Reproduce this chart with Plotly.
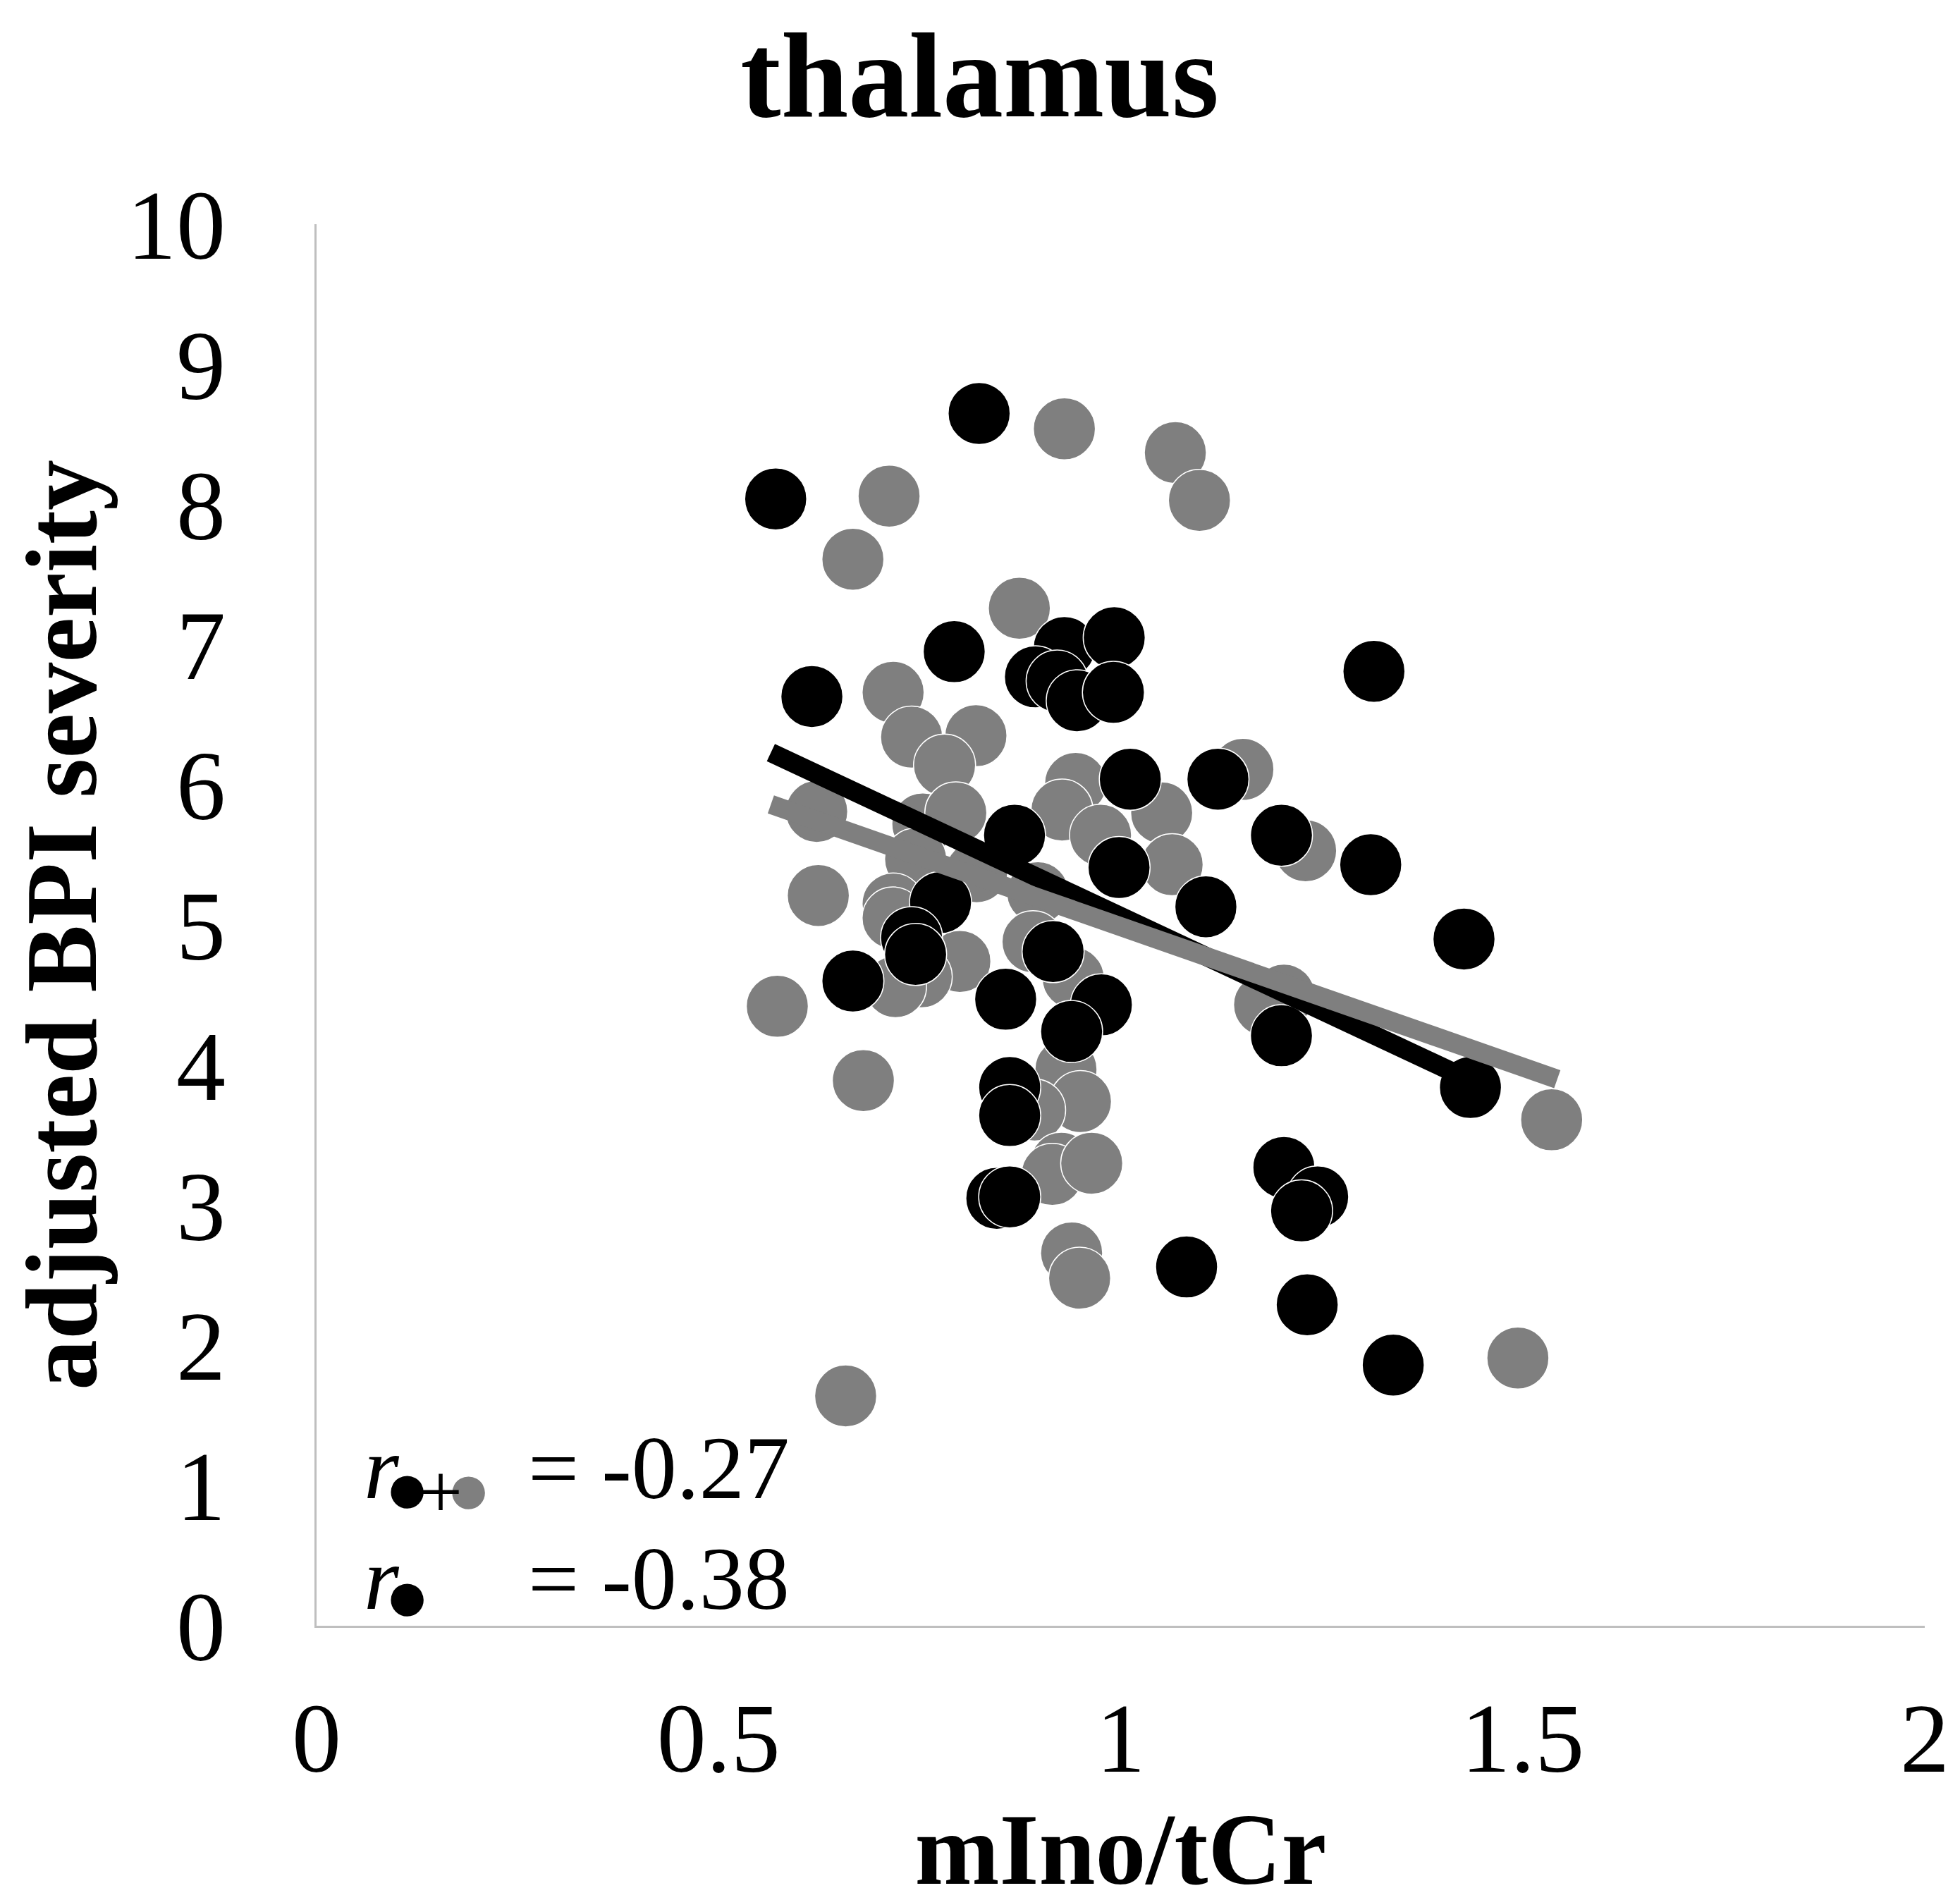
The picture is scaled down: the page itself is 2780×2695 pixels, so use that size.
import plotly.graph_objects as go

# ---- data ----
black_x = [0.571, 0.824, 0.616, 0.793, 0.930, 0.992, 0.894, 0.921, 0.946, 0.991,
           1.315, 1.012, 1.121, 0.868, 0.998, 1.200, 1.311, 1.106, 0.776, 0.740,
           0.745, 0.667, 0.916, 0.857, 0.976, 0.939, 1.200, 1.427, 1.435, 0.862,
           0.862, 0.846, 0.862, 1.203, 1.245, 1.225, 1.082, 1.232, 1.339]
black_y = [8.04, 8.65, 6.63, 6.95, 6.98, 7.05, 6.77, 6.74, 6.60, 6.66,
           6.81, 6.04, 6.04, 5.64, 5.41, 5.64, 5.43, 5.13, 5.16, 4.91,
           4.79, 4.60, 4.81, 4.47, 4.43, 4.24, 4.21, 4.90, 3.84, 3.84,
           3.64, 3.05, 3.06, 3.27, 3.06, 2.96, 2.56, 2.29, 1.86]

gray_x = [0.930, 1.068, 1.098, 0.712, 0.667, 0.874, 0.717, 0.740, 0.820, 0.781,
          0.944, 0.927, 0.975, 1.051, 1.064, 1.152, 1.230, 0.622, 0.754, 0.795,
          0.745, 0.624, 0.717, 0.897, 0.821, 0.573, 0.680, 0.658, 0.717, 0.800,
          0.752, 0.720, 0.891, 0.941, 0.932, 0.950, 0.893, 0.926, 0.915, 0.964,
          0.939, 0.949, 1.203, 1.179, 1.536, 1.494]
gray_y = [8.54, 8.37, 8.03, 8.06, 7.61, 7.26, 6.66, 6.34, 6.35, 6.14,
          6.01, 5.82, 5.64, 5.80, 5.43, 6.11, 5.53, 5.81, 5.72, 5.80,
          5.47, 5.21, 5.15, 5.23, 5.38, 4.42, 3.89, 1.64, 5.05, 4.74,
          4.63, 4.56, 4.88, 4.62, 3.97, 3.74, 3.68, 3.30, 3.22, 3.30,
          2.66, 2.48, 4.50, 4.43, 3.61, 1.91]

# trend line end points
black_trend_x = [0.565, 1.432]
black_trend_y = [6.23, 3.90]
gray_trend_x = [0.565, 1.543]
gray_trend_y = [5.86, 3.90]

x_ticks = [0, 0.5, 1, 1.5, 2]
x_tick_labels = ["0", "0.5", "1", "1.5", "2"]
y_ticks = list(range(0, 11))

r_all = "-0.27"
r_black = "-0.38"

BLACK = "#000000"
GRAY = "#7f7f7f"
FONT = "Liberation Serif"

fig = go.Figure()
fig.add_trace(go.Scatter(x=gray_x, y=gray_y, mode="markers",
                         marker=dict(size=88, color=GRAY, line=dict(color="white", width=1.5)),
                         showlegend=False))
fig.add_trace(go.Scatter(x=black_x, y=black_y, mode="markers",
                         marker=dict(size=88, color=BLACK, line=dict(color="white", width=1.5)),
                         showlegend=False))
fig.add_trace(go.Scatter(x=black_trend_x, y=black_trend_y, mode="lines",
                         line=dict(color=BLACK, width=27), showlegend=False))
fig.add_trace(go.Scatter(x=gray_trend_x, y=gray_trend_y, mode="lines",
                         line=dict(color=GRAY, width=27), showlegend=False))

# correlation text
ann_font = dict(family=FONT, size=128, color=BLACK)
dot_font_b = dict(family=FONT, size=108, color=BLACK)
dot_font_g = dict(family=FONT, size=108, color=GRAY)
plus_font = dict(family=FONT, size=110, color=BLACK)
annotations = [
    dict(x=0.058, y=1.125, text="<i>r</i>", xanchor="left", font=ann_font),
    dict(x=0.113, y=0.985, text="●", xanchor="center", font=dot_font_b),
    dict(x=0.189, y=0.980, text="●", xanchor="center", font=dot_font_g),
    dict(x=0.154, y=0.955, text="+", xanchor="center", font=plus_font),
    dict(x=0.262, y=1.125, text="= " + r_all, xanchor="left", font=ann_font),
    dict(x=0.058, y=0.335, text="<i>r</i>", xanchor="left", font=ann_font),
    dict(x=0.113, y=0.215, text="●", xanchor="center", font=dot_font_b),
    dict(x=0.262, y=0.335, text="= " + r_black, xanchor="left", font=ann_font),
]
for a in annotations:
    a.update(xref="x", yref="y", yanchor="middle", showarrow=False, borderpad=0)

fig.update_layout(
    width=2780, height=2695,
    margin=dict(l=441, r=58, t=310, b=397, autoexpand=False),
    paper_bgcolor="white", plot_bgcolor="white",
    font=dict(family=FONT, color=BLACK),
    title=dict(text="<b>thalamus</b>", x=0.497, xref="container", xanchor="center",
               y=0.964, yref="container", yanchor="middle",
               font=dict(family=FONT, size=172, color=BLACK)),
    xaxis=dict(range=[0, 2], tickvals=x_ticks, ticktext=x_tick_labels,
               showgrid=False, zeroline=False, showline=True, linecolor="#bfbfbf", linewidth=3,
               ticks="", ticklabelstandoff=36,
               tickfont=dict(family=FONT, size=140, color=BLACK),
               title=dict(text="<b>mIno/tCr</b>", standoff=88,
                          font=dict(family=FONT, size=144, color=BLACK))),
    yaxis=dict(range=[0, 10], tickvals=y_ticks,
               showgrid=False, zeroline=False, showline=True, linecolor="#bfbfbf", linewidth=3,
               ticks="", ticklabelstandoff=98,
               tickfont=dict(family=FONT, size=140, color=BLACK),
               title=dict(text="<b>adjusted BPI severity</b>", standoff=32,
                          font=dict(family=FONT, size=144, color=BLACK))),
    annotations=annotations,
)
fig.write_html("out.html")
